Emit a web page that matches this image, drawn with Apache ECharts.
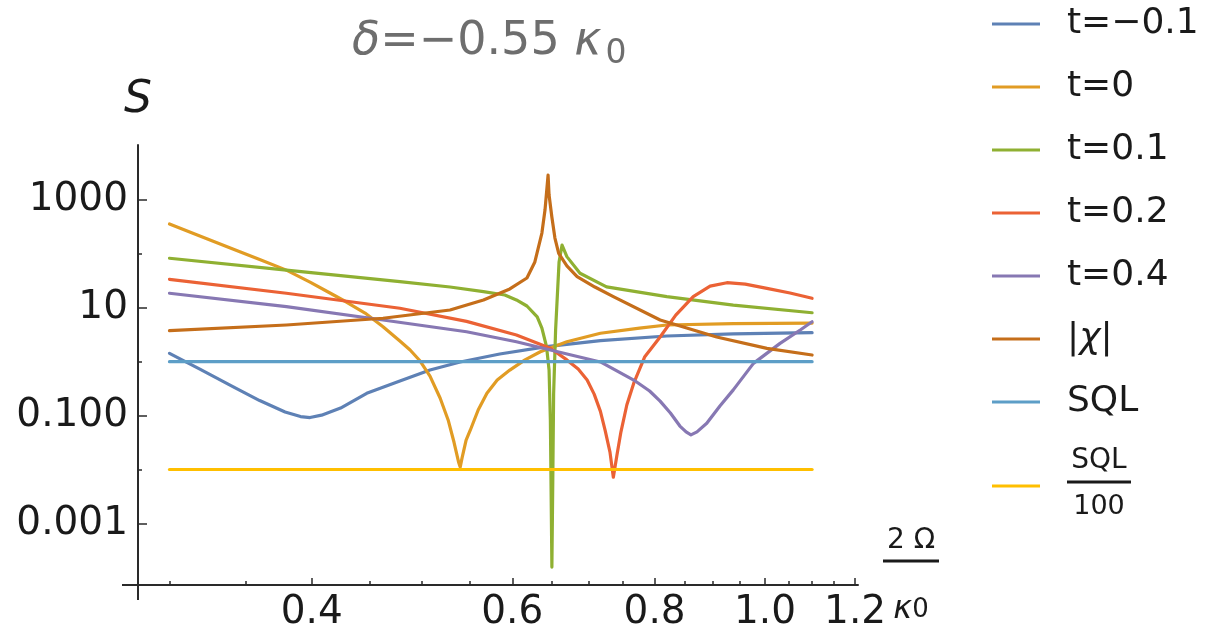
<!DOCTYPE html>
<html><head><meta charset="utf-8">
<script src="https://cdn.jsdelivr.net/npm/echarts@6/dist/echarts.min.js"></script>
<style>html,body{margin:0;padding:0;background:#fff}#c{width:1211px;height:635px}</style>
</head><body><div id="c"></div>
<script>
// ---- data: [2Ω/κ0, S] ----
const seriesNames = ['t=−0.1', 't=0', 't=0.1', 't=0.2', 't=0.4', '|χ|', 'SQL', 'SQL/100'];
const seriesColors = ['#5E81B5', '#E19C24', '#8FB032', '#EB6235', '#8778B3', '#C56E1A', '#5D9EC7', '#FFBF00'];

const tMinus01 = [[0.300,1.43],[0.319,0.73],[0.341,0.344],[0.360,0.19],[0.379,0.117],[0.391,0.096],[0.3986,0.092],[0.408,0.102],[0.424,0.138],[0.447,0.259],[0.478,0.44],[0.508,0.70],[0.540,0.987],[0.585,1.39],[0.643,1.90],[0.717,2.47],[0.82,3.0],[0.938,3.27],[1.10,3.45]];
const t0 = [[0.300,359],[0.319,215],[0.341,123],[0.360,78.7],[0.380,50],[0.3986,30],[0.415,18.8],[0.429,12.8],[0.4455,8.0],[0.462,4.46],[0.478,2.42],[0.488,1.65],[0.498,1.03],[0.508,0.54],[0.5185,0.212],[0.527,0.083],[0.5333,0.032],[0.5382,0.0138],[0.540,0.0111],[0.542,0.0163],[0.5465,0.035],[0.551,0.053],[0.560,0.127],[0.570,0.26],[0.582,0.457],[0.597,0.70],[0.6156,1.08],[0.635,1.53],[0.670,2.35],[0.717,3.37],[0.776,4.2],[0.82,4.8],[0.938,5.1],[1.10,5.2]];
const t01 = [[0.300,83],[0.380,50],[0.478,30.5],[0.529,24.3],[0.566,20],[0.591,17.3],[0.605,14],[0.618,10.8],[0.631,6.8],[0.637,4.2],[0.643,1.9],[0.6463,0.70],[0.648,0.083],[0.650,0.000155],[0.6512,0.0065],[0.6523,0.26],[0.6549,3.9],[0.6595,71],[0.6635,146],[0.670,89],[0.688,43.7],[0.726,24.5],[0.82,16.1],[0.938,11.2],[1.10,8.1]];
const t02 = [[0.300,33.8],[0.380,18.6],[0.478,9.8],[0.547,5.6],[0.605,3.13],[0.648,1.78],[0.670,1.08],[0.6855,0.73],[0.698,0.457],[0.708,0.25],[0.717,0.12],[0.7238,0.054],[0.731,0.021],[0.736,0.0072],[0.7414,0.0186],[0.7474,0.05],[0.7564,0.159],[0.767,0.40],[0.784,1.22],[0.809,2.88],[0.835,7.3],[0.865,16.1],[0.895,25.3],[0.926,29.2],[0.961,27.5],[1.004,22.9],[1.052,18.8],[1.10,15]];
const t04 = [[0.300,18.6],[0.380,10.5],[0.462,5.94],[0.547,3.6],[0.605,2.35],[0.648,1.65],[0.717,0.99],[0.767,0.457],[0.792,0.286],[0.809,0.186],[0.826,0.112],[0.842,0.064],[0.8526,0.050],[0.861,0.044],[0.8716,0.050],[0.889,0.072],[0.913,0.151],[0.938,0.30],[0.977,0.93],[1.031,2.19],[1.074,3.87],[1.10,5.5]];
const chi = [[0.300,3.76],[0.380,4.8],[0.462,6.4],[0.529,9.1],[0.566,14],[0.597,22.4],[0.618,35.7],[0.628,71],[0.637,244],[0.641,650],[0.645,2900],[0.6463,1240],[0.650,480],[0.654,197],[0.659,102],[0.670,60],[0.684,38],[0.709,24.3],[0.736,16.1],[0.809,5.94],[0.907,2.88],[1.004,1.77],[1.10,1.33]];
const sql = [[0.30,1],[1.10,1]];
const sql100 = [[0.30,0.01],[1.10,0.01]];
const seriesValues = [tMinus01, t0, t01, t02, t04, chi, sql, sql100];

// ---- axes (log scales, drawn in log10 space) ----
const xRange = [0.2815, 1.207];
const yRange = [7.2e-5, 10480];
const xMajorTicks = [0.4, 0.6, 0.8, 1.0, 1.2];
const xMinorTicks = [0.3, 0.35, 0.45, 0.5, 0.55, 0.65, 0.7, 0.75, 0.85, 0.9, 0.95, 1.05, 1.1, 1.15];
const yMajorTicks = [0.001, 0.1, 10, 1000];
const yMajorLabels = ['0.001', '0.100', '10', '1000'];
const yMinorTicks = [0.01, 1, 100];

const lg = Math.log10;
const FONT = 'DejaVu Sans';
const AX = '#2a2a2a';
const INK = '#1a1a1a';

const chart = echarts.init(document.getElementById('c'), null, {renderer: 'canvas'});

function xAxisDef(major) {
  return {
    type: 'value', gridIndex: 0, position: 'bottom',
    min: lg(xRange[0]), max: lg(xRange[1]),
    axisLine: {show: major, onZero: false, lineStyle: {color: AX, width: 2}},
    splitLine: {show: false},
    axisTick: {show: true, inside: true, length: major ? 7 : 4, lineStyle: {color: AX, width: 1.5},
      customValues: (major ? xMajorTicks : xMinorTicks).map(lg)},
    axisLabel: major ? {
      show: true, customValues: xMajorTicks.map(lg), margin: 8,
      fontFamily: FONT, fontSize: 39, color: INK,
      formatter: v => Math.pow(10, v).toFixed(1)
    } : {show: false},
    name: major ? '{n|2 Ω}\n{bar|}\n{k|κ}{s|0}' : '',
    nameLocation: 'end', nameGap: 25, nameMoveOverlap: false,
    nameTextStyle: {
      align: 'left', verticalAlign: 'middle', fontFamily: FONT, color: INK, padding: [10, 0, 0, 0],
      rich: {
        n: {fontSize: 28, lineHeight: 30, align: 'center', fontFamily: FONT, color: INK},
        bar: {width: 56, height: 3, lineHeight: 10, backgroundColor: INK, align: 'center'},
        k: {fontSize: 32, lineHeight: 88, fontStyle: 'italic', fontFamily: FONT, color: INK, align: 'center'},
        s: {fontSize: 26, lineHeight: 88, fontFamily: FONT, color: INK, align: 'center'}
      }
    }
  };
}
function yAxisDef(major) {
  return {
    type: 'value', gridIndex: 0, position: 'left',
    min: lg(yRange[0]), max: lg(yRange[1]),
    axisLine: {show: major, onZero: false, lineStyle: {color: AX, width: 2}},
    splitLine: {show: false},
    axisTick: {show: true, inside: true, length: major ? 9 : 4, lineStyle: {color: AX, width: 1.5},
      customValues: (major ? yMajorTicks : yMinorTicks).map(lg)},
    axisLabel: major ? {
      show: true, customValues: yMajorTicks.map(lg), margin: 10,
      fontFamily: FONT, fontSize: 39, color: INK,
      formatter: v => yMajorLabels[yMajorTicks.findIndex(t => Math.abs(lg(t) - v) < 1e-6)]
    } : {show: false},
    name: major ? 'S' : '',
    nameLocation: 'end', nameGap: 22, nameMoveOverlap: false,
    nameTextStyle: {fontFamily: FONT, fontSize: 44, fontStyle: 'italic', color: INK, align: 'center'}
  };
}

const option = {
  animation: false,
  backgroundColor: '#fff',
  color: seriesColors,
  title: {
    text: '{g|δ}=−0.55 {g|κ}{sub|0}',
    left: 347, top: 9,
    textStyle: {
      fontFamily: FONT, fontSize: 46, fontWeight: 'normal', color: '#6e6e6e',
      rich: {
        g: {fontFamily: FONT, fontSize: 46, fontStyle: 'italic', color: '#6e6e6e'},
        sub: {fontFamily: FONT, fontSize: 33, color: '#6e6e6e', padding: [24, 0, 0, 4]}
      }
    }
  },
  legend: {
    orient: 'vertical', left: 992, top: 4, padding: 0,
    icon: 'rect', itemWidth: 48, itemHeight: 3, itemGap: 23,
    data: seriesNames,
    formatter: name => {
      if (name === '|χ|') return '|{it|χ}|';
      if (name === 'SQL/100') return '{fn|SQL}\n{bar|}\n{fd|100}';
      return name;
    },
    textStyle: {
      fontFamily: FONT, fontSize: 36, color: INK, lineHeight: 40, padding: [0, 0, 0, 22],
      rich: {
        it: {fontFamily: FONT, fontSize: 36, fontStyle: 'italic', color: INK, lineHeight: 40},
        fn: {fontFamily: FONT, fontSize: 28, color: INK, lineHeight: 32, align: 'center'},
        bar: {width: 64, height: 3, lineHeight: 10, backgroundColor: INK, align: 'center'},
        fd: {fontFamily: FONT, fontSize: 27, color: INK, lineHeight: 40, align: 'center'}
      }
    }
  },
  grid: {left: 138, right: 353, top: 145, bottom: 50, containLabel: false, outerBoundsMode: 'none'},
  xAxis: [xAxisDef(true), xAxisDef(false)],
  yAxis: [yAxisDef(true), yAxisDef(false)],
  series: seriesNames.map((name, i) => ({
    name, type: 'line', xAxisIndex: 0, yAxisIndex: 0,
    showSymbol: false, symbol: 'none', smooth: false,
    lineStyle: {width: 3.2, color: seriesColors[i], join: 'round', cap: 'round'},
    itemStyle: {color: seriesColors[i]},
    data: seriesValues[i].map(([x, s]) => [lg(x), lg(s)])
  }))
};
chart.setOption(option);

// small axis extensions past the crossing point (Mathematica-style axes)
const o = chart.convertToPixel({xAxisIndex: 0, yAxisIndex: 0}, [lg(xRange[0]), lg(yRange[0])]);
chart.setOption({graphic: [
  {type: 'line', shape: {x1: o[0] - 16, y1: o[1], x2: o[0], y2: o[1]}, style: {stroke: AX, lineWidth: 2}},
  {type: 'line', shape: {x1: o[0], y1: o[1], x2: o[0], y2: o[1] + 15}, style: {stroke: AX, lineWidth: 2}}
]});
</script>
</body></html>
